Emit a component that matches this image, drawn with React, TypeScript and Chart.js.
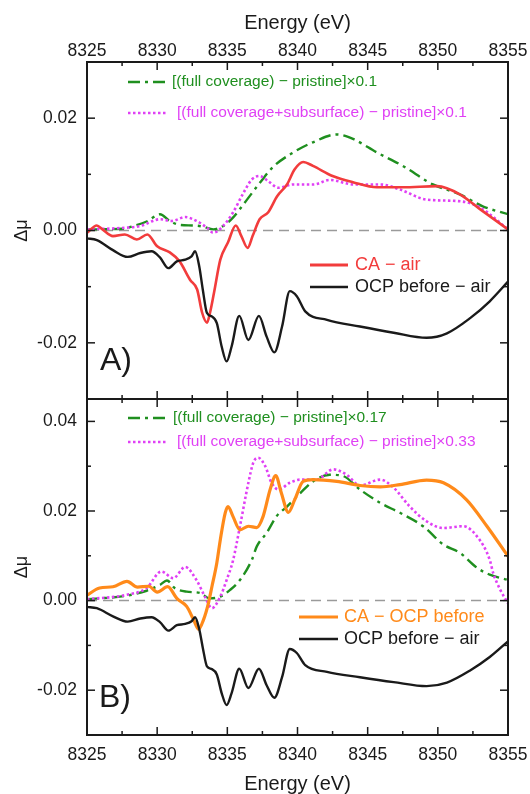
import React, { useEffect, useRef } from 'react';
import { Chart, registerables } from 'chart.js';

Chart.register(...registerables);

const FONT = '"Liberation Sans", Arial, Helvetica, sans-serif';
const INK = '#1a1a1a';
const GREEN = '#1f8f1f';
const MAGENTA = '#e040f5';
const RED = '#f23c3c';
const ORANGE = '#ff8a1a';
const ZERO = '#9a9a9a';

// ---- axes ----
const xMajorTicks = [8325, 8330, 8335, 8340, 8345, 8350, 8355];
const xMinorTicks = [8327.5, 8332.5, 8337.5, 8342.5, 8347.5, 8352.5];
const topYTicks = [-0.02, 0, 0.02];
const topYMinorTicks = [-0.01, 0.01];
const bottomYTicks = [-0.02, 0, 0.02, 0.04];
const bottomYMinorTicks = [-0.01, 0.01, 0.03];

// ---- zero reference ----
const zeroE = [8325, 8355];
const zeroV = [0, 0];

// ---- CA − air (panel A) ----
const caAirE = [8325, 8325.7, 8326.1, 8326.85, 8327.7, 8328.55, 8329.3, 8330.0, 8330.9, 8331.6, 8332.35, 8332.85, 8333.2, 8333.55, 8333.77, 8334.05, 8334.5, 8335.05, 8335.6, 8336.0, 8336.45, 8336.8, 8337.3, 8337.9, 8338.55, 8339.25, 8339.8, 8340.4, 8341.1, 8342.5, 8343.95, 8345.65, 8347.5, 8349.95, 8351.6, 8353.0, 8355];
const caAirV = [-0.0004, 0.0009, 0.0002, -0.0010, -0.0007, -0.0016, -0.0007, -0.0028, -0.0039, -0.0055, -0.0088, -0.0105, -0.0146, -0.0164, -0.0146, -0.0111, -0.0052, -0.0021, 0.0009, -0.0010, -0.0031, -0.0010, 0.0020, 0.0032, 0.0061, 0.0082, 0.0109, 0.0122, 0.0115, 0.0097, 0.0086, 0.0077, 0.0077, 0.0079, 0.0064, 0.0038, 0.0002];

// ---- OCP before − air (both panels) ----
const ocpAirE = [8325, 8325.7, 8326.85, 8327.9, 8328.8, 8329.6, 8330.2, 8330.8, 8331.4, 8332.0, 8332.45, 8332.7, 8333.0, 8333.25, 8333.55, 8333.9, 8334.25, 8334.6, 8334.95, 8335.3, 8335.85, 8336.5, 8337.25, 8337.8, 8338.35, 8338.9, 8339.45, 8339.95, 8340.55, 8342.1, 8344.45, 8346.85, 8349.2, 8350.65, 8352.3, 8353.7, 8355];
const ocpAirV = [-0.0014, -0.0017, -0.0035, -0.0047, -0.0040, -0.0037, -0.0048, -0.0067, -0.0055, -0.0052, -0.0046, -0.0037, -0.0064, -0.0105, -0.0147, -0.0153, -0.0165, -0.0207, -0.0233, -0.0207, -0.0152, -0.0195, -0.0152, -0.0189, -0.0217, -0.0171, -0.0108, -0.0117, -0.0144, -0.0159, -0.0171, -0.0182, -0.0191, -0.0183, -0.0156, -0.0126, -0.0091];

// ---- [(full coverage) − pristine]×0.1 ----
const fullCovTopE = [8325, 8327.55, 8328.3, 8329.25, 8330.2, 8330.9, 8331.6, 8332.55, 8333.25, 8334.0, 8334.7, 8335.4, 8336.25, 8337.35, 8338.25, 8339.7, 8341.1, 8342.8, 8343.95, 8345.65, 8347.5, 8349.65, 8351.6, 8353.2, 8355];
const fullCovTopV = [0.0002, 0.0003, 0.0008, 0.0016, 0.0029, 0.0017, 0.0010, 0.0009, 0.0007, 0.0002, 0.0008, 0.0023, 0.0050, 0.0086, 0.0113, 0.0139, 0.0157, 0.0171, 0.0163, 0.0139, 0.0115, 0.0082, 0.0064, 0.0043, 0.0029];

// ---- [(full coverage+subsurface) − pristine]×0.1 ----
const fullSubTopE = [8325, 8327.8, 8328.8, 8330.2, 8331.05, 8332.0, 8332.8, 8333.55, 8334.0, 8334.7, 8335.4, 8336.15, 8336.75, 8337.3, 8337.9, 8338.65, 8339.7, 8341.15, 8342.3, 8344.0, 8345.9, 8347.3, 8349.2, 8351.6, 8353.0, 8355];
const fullSubTopV = [0.0002, 0.0005, 0.0008, 0.0020, 0.0017, 0.0024, 0.0017, 0.0005, -0.0004, 0.0008, 0.0032, 0.0067, 0.0091, 0.0097, 0.0088, 0.0076, 0.0082, 0.0082, 0.0090, 0.0082, 0.0082, 0.0073, 0.0055, 0.0052, 0.0041, 0.0002];

// ---- CA − OCP before (panel B) ----
const caOcpE = [8325, 8325.9, 8326.85, 8327.85, 8328.6, 8329.4, 8330.0, 8330.75, 8331.4, 8332.1, 8332.6, 8332.95, 8333.3, 8333.65, 8333.9, 8334.25, 8334.5, 8334.85, 8335.05, 8335.4, 8335.9, 8336.5, 8337.1, 8337.55, 8338.05, 8338.45, 8338.85, 8339.35, 8339.8, 8340.4, 8341.1, 8342.8, 8344.45, 8345.9, 8347.3, 8349.2, 8350.4, 8352.05, 8353.5, 8355];
const caOcpV = [0.0012, 0.0028, 0.0031, 0.0043, 0.0030, 0.0032, 0.0019, 0.0031, 0.0005, -0.0013, -0.0043, -0.0064, -0.0043, -0.0006, 0.0031, 0.0084, 0.0136, 0.0196, 0.0210, 0.0188, 0.0158, 0.0166, 0.0163, 0.0188, 0.0248, 0.0279, 0.0240, 0.0197, 0.0225, 0.0266, 0.0270, 0.0266, 0.0257, 0.0254, 0.0259, 0.0269, 0.0263, 0.0225, 0.0166, 0.0099];

// ---- [(full coverage) − pristine]×0.17 ----
const fullCovBotE = [8325, 8327.85, 8329.25, 8330.2, 8330.7, 8331.25, 8332.1, 8333.05, 8333.75, 8334.5, 8335.2, 8335.9, 8336.75, 8337.1, 8337.8, 8338.5, 8339.25, 8340.2, 8341.1, 8342.3, 8343.25, 8344.45, 8345.9, 8347.3, 8348.95, 8350.4, 8351.6, 8352.8, 8353.7, 8355];
const fullCovBotV = [0.0003, 0.0011, 0.0022, 0.0035, 0.0045, 0.0028, 0.0020, 0.0017, 0.0005, 0.0009, 0.0024, 0.0046, 0.0091, 0.0121, 0.0151, 0.0188, 0.0210, 0.0240, 0.0266, 0.0281, 0.0278, 0.0248, 0.0218, 0.0196, 0.0166, 0.0125, 0.0106, 0.0073, 0.0058, 0.0046];

// ---- [(full coverage+subsurface) − pristine]×0.33 ----
const fullSubBotE = [8325, 8327.85, 8329.25, 8330.3, 8331.15, 8332.0, 8332.8, 8333.4, 8333.9, 8334.5, 8334.95, 8335.4, 8335.9, 8336.5, 8336.85, 8337.2, 8337.7, 8338.15, 8338.65, 8339.45, 8340.2, 8341.35, 8342.55, 8343.5, 8344.45, 8345.9, 8346.85, 8348.0, 8349.2, 8350.4, 8351.8, 8352.8, 8353.7, 8353.95, 8354.45, 8355];
const fullSubBotV = [0.0003, 0.0013, 0.0028, 0.0065, 0.0050, 0.0075, 0.0046, 0.0009, -0.0017, 0.0009, 0.0046, 0.0089, 0.0166, 0.0263, 0.0308, 0.0319, 0.0300, 0.0263, 0.0248, 0.0263, 0.0270, 0.0270, 0.0293, 0.0281, 0.0257, 0.0270, 0.0252, 0.0210, 0.0177, 0.0162, 0.0166, 0.0143, 0.0091, 0.0061, 0.0024, -0.0006];

// ---- labels ----
const xTitle = 'Energy (eV)';
const yTitle = 'Δμ';
const DASHDOT = [12, 5, 3, 5];
const DOTS = [2.5, 2.5];

type LegendItem = { text: string; color: string; textColor: string; dash: number[]; width: number; x1: number; x2: number; y: number; tx: number; size: number };

const pts = (e: number[], v: number[]) => e.map((x, i) => ({ x, y: v[i] }));

function line(e: number[], v: number[], color: string, width: number, dash: number[]) {
  return {
    data: pts(e, v),
    borderColor: color,
    borderWidth: width,
    borderDash: dash,
    pointRadius: 0,
    fill: false,
    cubicInterpolationMode: 'monotone' as const,
  };
}

function zeroLine() {
  return { data: pts(zeroE, zeroV), borderColor: ZERO, borderWidth: 1.5, borderDash: [10, 6], pointRadius: 0, fill: false, tension: 0 };
}

function xScale(position: 'top' | 'bottom', height: number, pad: number, titlePad: any) {
  return {
    type: 'linear' as const,
    position,
    min: 8325,
    max: 8355,
    afterBuildTicks: (s: any) => { s.ticks = xMajorTicks.map((value) => ({ value })); },
    afterFit: (s: any) => { s.height = height; s.paddingLeft = 0; s.paddingRight = 0; s.paddingTop = 0; s.paddingBottom = 0; },
    grid: { display: false, drawTicks: false },
    border: { display: false },
    ticks: { color: INK, autoSkip: false, maxRotation: 0, padding: pad, font: { family: FONT, size: 17.5 }, callback: (v: any) => String(v) },
    title: { display: true, text: xTitle, color: INK, font: { family: FONT, size: 20 }, padding: titlePad },
  };
}

function yScale(min: number, max: number, ticks: number[]) {
  return {
    type: 'linear' as const,
    position: 'left' as const,
    min,
    max,
    afterBuildTicks: (s: any) => { s.ticks = ticks.map((value) => ({ value })); },
    afterFit: (s: any) => { s.width = 87; s.paddingTop = 0; s.paddingBottom = 0; s.paddingLeft = 0; s.paddingRight = 0; },
    grid: { display: false, drawTicks: false },
    border: { display: false },
    ticks: { color: INK, padding: 10, font: { family: FONT, size: 17.5 }, callback: (v: any) => Number(v).toFixed(2) },
    title: { display: true, text: yTitle, color: INK, font: { family: FONT, size: 18 }, padding: { top: 11, bottom: 0 } },
  };
}

function decor(opts: { yMajor: number[]; yMinor: number[]; legend: LegendItem[]; label: string; labelX: number; labelY: number }) {
  return {
    id: 'decor',
    afterDatasetsDraw(chart: any) {
      const { ctx, chartArea: a } = chart;
      const xs = chart.scales.x;
      const ys = chart.scales.y;
      ctx.save();
      ctx.setLineDash([]);
      ctx.lineCap = 'butt';
      ctx.strokeStyle = INK;
      const seg = (x1: number, y1: number, x2: number, y2: number) => {
        ctx.beginPath(); ctx.moveTo(x1, y1); ctx.lineTo(x2, y2); ctx.stroke();
      };
      ctx.lineWidth = 1.5;
      xMajorTicks.forEach((v) => { const p = xs.getPixelForValue(v); seg(p, a.top, p, a.top + 8); seg(p, a.bottom, p, a.bottom - 8); });
      xMinorTicks.forEach((v) => { const p = xs.getPixelForValue(v); seg(p, a.top, p, a.top + 4); seg(p, a.bottom, p, a.bottom - 4); });
      opts.yMajor.forEach((v) => { const p = ys.getPixelForValue(v); seg(a.left, p, a.left + 8, p); seg(a.right, p, a.right - 8, p); });
      opts.yMinor.forEach((v) => { const p = ys.getPixelForValue(v); seg(a.left, p, a.left + 4, p); seg(a.right, p, a.right - 4, p); });
      ctx.lineWidth = 2;
      ctx.strokeRect(a.left, a.top, a.right - a.left, a.bottom - a.top);

      opts.legend.forEach((l) => {
        ctx.strokeStyle = l.color;
        ctx.lineWidth = l.width;
        ctx.setLineDash(l.dash);
        seg(l.x1, l.y, l.x2, l.y);
        ctx.setLineDash([]);
        ctx.fillStyle = l.textColor;
        ctx.font = `${l.size}px ${FONT}`;
        ctx.textBaseline = 'middle';
        ctx.textAlign = 'left';
        ctx.fillText(l.text, l.tx, l.y);
      });

      ctx.fillStyle = INK;
      ctx.font = `32px ${FONT}`;
      ctx.textBaseline = 'middle';
      ctx.textAlign = 'left';
      ctx.fillText(opts.label, opts.labelX, opts.labelY);
      ctx.restore();
    },
  };
}

const BOTTOM_TOP = 390;

export default function App() {
  const topRef = useRef<HTMLCanvasElement | null>(null);
  const botRef = useRef<HTMLCanvasElement | null>(null);

  useEffect(() => {
    if (!topRef.current || !botRef.current) return;

    const topLegend: LegendItem[] = [
      { text: '[(full coverage) − pristine]×0.1', color: GREEN, textColor: GREEN, dash: DASHDOT, width: 2.4, x1: 128, x2: 167, y: 82, tx: 172, size: 15.5 },
      { text: '[(full coverage+subsurface) − pristine]×0.1', color: MAGENTA, textColor: MAGENTA, dash: DOTS, width: 2.6, x1: 128, x2: 167, y: 113, tx: 177, size: 15.5 },
      { text: 'CA − air', color: RED, textColor: RED, dash: [], width: 2.8, x1: 310, x2: 348, y: 265, tx: 355, size: 18 },
      { text: 'OCP before − air', color: INK, textColor: INK, dash: [], width: 2.6, x1: 310, x2: 348, y: 287, tx: 355, size: 18 },
    ];
    const botLegend: LegendItem[] = [
      { text: '[(full coverage) − pristine]×0.17', color: GREEN, textColor: GREEN, dash: DASHDOT, width: 2.4, x1: 128, x2: 167, y: 418 - BOTTOM_TOP, tx: 173, size: 15.5 },
      { text: '[(full coverage+subsurface) − pristine]×0.33', color: MAGENTA, textColor: MAGENTA, dash: DOTS, width: 2.6, x1: 128, x2: 167, y: 442 - BOTTOM_TOP, tx: 177, size: 15.5 },
      { text: 'CA − OCP before', color: ORANGE, textColor: ORANGE, dash: [], width: 3.2, x1: 299, x2: 338, y: 617 - BOTTOM_TOP, tx: 344, size: 18 },
      { text: 'OCP before − air', color: INK, textColor: INK, dash: [], width: 2.6, x1: 299, x2: 338, y: 639 - BOTTOM_TOP, tx: 344, size: 18 },
    ];

    const top = new Chart(topRef.current, {
      type: 'line',
      data: {
        datasets: [
          line(ocpAirE, ocpAirV, INK, 2.4, []),
          line(caAirE, caAirV, RED, 2.6, []),
          line(fullSubTopE, fullSubTopV, MAGENTA, 2.6, DOTS),
          line(fullCovTopE, fullCovTopV, GREEN, 2.4, DASHDOT),
          zeroLine(),
        ] as any,
      },
      options: {
        responsive: false,
        animation: false,
        layout: { padding: { left: 0, right: 22, top: 0, bottom: 9 } },
        plugins: { legend: { display: false }, tooltip: { enabled: false } },
        scales: {
          x: xScale('top', 62, 0, { top: 11, bottom: 0 }),
          y: yScale(-0.03, 0.03, topYTicks),
        } as any,
      },
      plugins: [decor({ yMajor: topYTicks, yMinor: topYMinorTicks, legend: topLegend, label: 'A)', labelX: 100, labelY: 361 })],
    });

    const bottom = new Chart(botRef.current, {
      type: 'line',
      data: {
        datasets: [
          line(ocpAirE, ocpAirV, INK, 2.4, []),
          line(caOcpE, caOcpV, ORANGE, 3.2, []),
          line(fullSubBotE, fullSubBotV, MAGENTA, 2.6, DOTS),
          line(fullCovBotE, fullCovBotV, GREEN, 2.4, DASHDOT),
          zeroLine(),
        ] as any,
      },
      options: {
        responsive: false,
        animation: false,
        layout: { padding: { left: 0, right: 22, top: 9, bottom: 0 } },
        plugins: { legend: { display: false }, tooltip: { enabled: false } },
        scales: {
          x: xScale('bottom', 59, 9.5, { top: 0, bottom: -2 }),
          y: yScale(-0.03, 0.045, bottomYTicks),
        } as any,
      },
      plugins: [decor({ yMajor: bottomYTicks, yMinor: bottomYMinorTicks, legend: botLegend, label: 'B)', labelX: 99, labelY: 698 - BOTTOM_TOP })],
    });

    return () => { top.destroy(); bottom.destroy(); };
  }, []);

  return (
    <div style={{ position: 'absolute', left: 0, top: 0, width: 530, height: 794, background: '#fff' }}>
      <canvas ref={topRef} width={530} height={408} style={{ position: 'absolute', left: 0, top: 0 }} />
      <canvas ref={botRef} width={530} height={404} style={{ position: 'absolute', left: 0, top: BOTTOM_TOP }} />
    </div>
  );
}
